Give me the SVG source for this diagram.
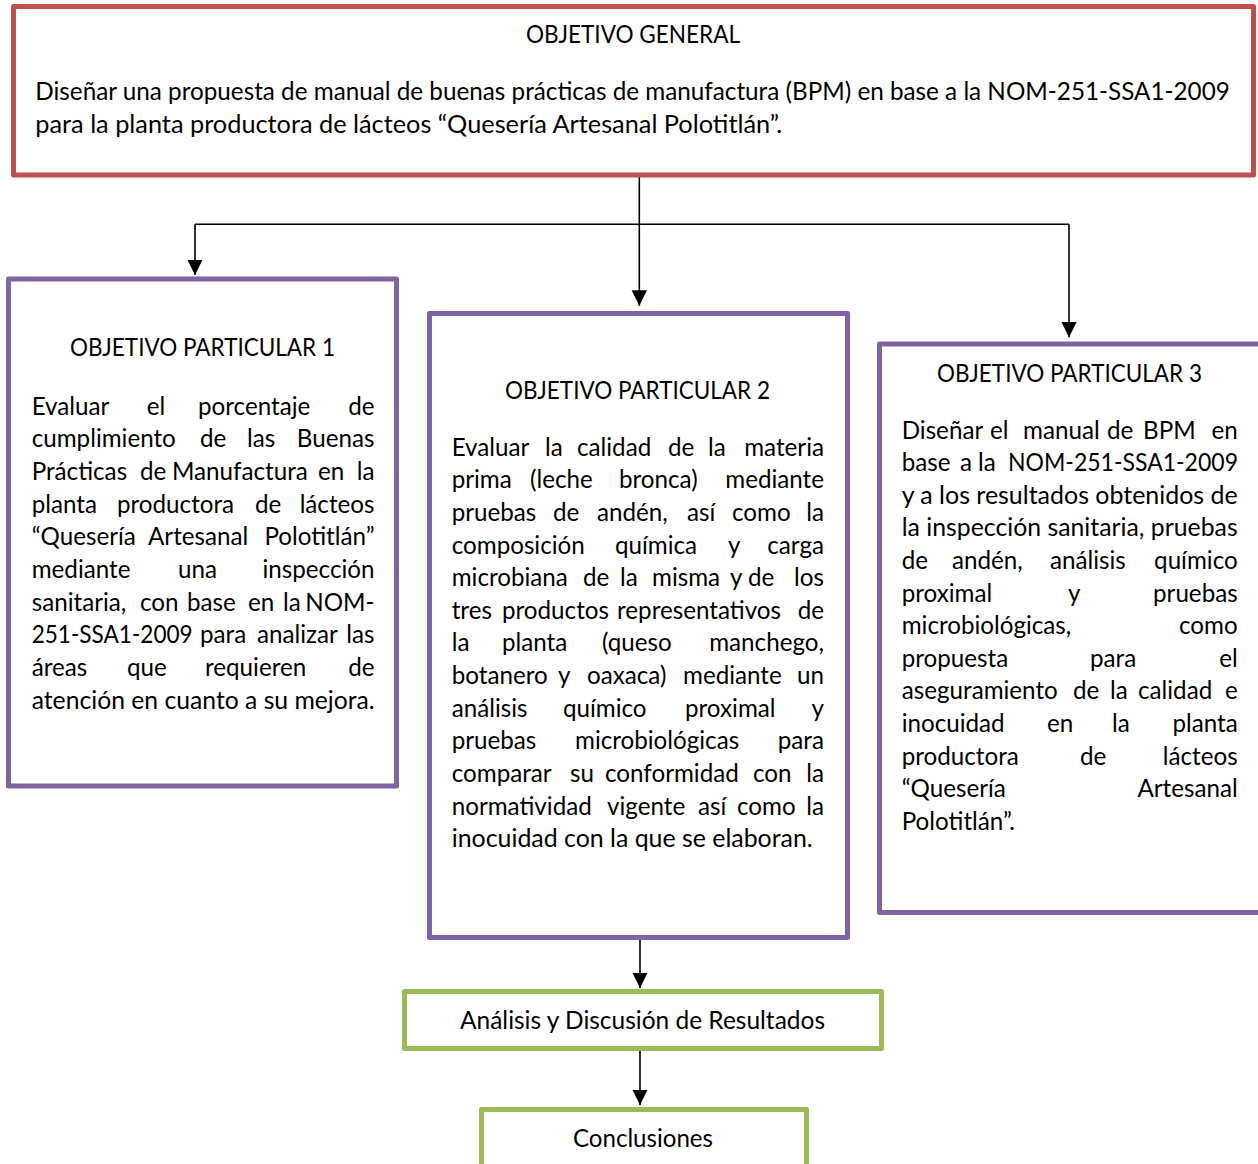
<svg xmlns="http://www.w3.org/2000/svg" width="1258" height="1164" viewBox="0 0 1258 1164">
<style>
.t{font-family:Lato,"Liberation Sans",sans-serif;font-size:24.2px;fill:#000}
.e{text-anchor:end}
.m{text-anchor:middle}
.box{fill:#fff;stroke-width:5;stroke-linejoin:round}
.red{stroke:#C0504D}
.pur{stroke:#8064A2}
.grn{stroke:#9BBB59}
.con{fill:none;stroke:#000;stroke-width:1.6}
</style>
<defs>
<marker id="ah" markerUnits="userSpaceOnUse" markerWidth="16" markerHeight="16" refX="15.5" refY="7.7" orient="auto">
<path d="M0,0 L15.5,7.7 L0,15.4 z" fill="#000"/>
</marker>
</defs>
<rect width="1258" height="1164" fill="#fff"/>

<g id="connectors">
<path class="con" d="M195,224.3 H1069"/>
<path class="con" d="M639.3,177 V305.7" marker-end="url(#ah)"/>
<path class="con" d="M195,224.3 V275" marker-end="url(#ah)"/>
<path class="con" d="M1069,224.3 V337.3" marker-end="url(#ah)"/>
<path class="con" d="M640,940 V988" marker-end="url(#ah)"/>
<path class="con" d="M640,1051 V1105" marker-end="url(#ah)"/>
</g>

<g id="objetivo-general">
<rect class="box red" x="13.5" y="6.5" width="1240" height="168.5"/>
<text class="t m" x="633" y="42.7" textLength="214" lengthAdjust="spacingAndGlyphs">OBJETIVO GENERAL</text>
<text class="t" x="35.3" y="100" textLength="1194.5" lengthAdjust="spacingAndGlyphs">Diseñar una propuesta de manual de buenas prácticas de manufactura (BPM) en base a la NOM-251-SSA1-2009</text>
<text class="t" x="35.3" y="132.7" textLength="747" lengthAdjust="spacingAndGlyphs">para la planta productora de lácteos “Quesería Artesanal Polotitlán”.</text>
</g>

<g id="objetivo-particular-1">
<rect class="box pur" x="8.5" y="279" width="388" height="507"/>
<text class="t m" x="202.5" y="356" textLength="265" lengthAdjust="spacingAndGlyphs">OBJETIVO PARTICULAR 1</text>
<text class="t" y="414.5"><tspan x="31.7">Evaluar</tspan><tspan x="146.7">el</tspan><tspan x="198">porcentaje</tspan></text><text class="t e" x="374.5" y="414.5">de</text>
<text class="t" y="447.2"><tspan x="31.7">cumplimiento</tspan><tspan x="200">de</tspan><tspan x="247">las</tspan></text><text class="t e" x="374.5" y="447.2">Buenas</text>
<text class="t" y="479.9"><tspan x="31.7">Prácticas</tspan><tspan x="140">de</tspan><tspan x="172">Manufactura</tspan><tspan x="318">en</tspan></text><text class="t e" x="374.5" y="479.9">la</text>
<text class="t" y="512.6"><tspan x="31.7">planta</tspan><tspan x="117">productora</tspan><tspan x="255">de</tspan></text><text class="t e" x="374.5" y="512.6">lácteos</text>
<text class="t" y="545.3"><tspan x="31.7">“Quesería</tspan><tspan x="148">Artesanal</tspan></text><text class="t e" x="374.5" y="545.3">Polotitlán”</text>
<text class="t" y="578"><tspan x="31.7">mediante</tspan><tspan x="178">una</tspan></text><text class="t e" x="374.5" y="578">inspección</text>
<text class="t" y="610.7"><tspan x="31.7">sanitaria,</tspan><tspan x="140">con</tspan><tspan x="187">base</tspan><tspan x="248">en</tspan><tspan x="283">la</tspan></text><text class="t e" x="374.5" y="610.7">NOM-</text>
<text class="t" x="31.7" y="643.4" textLength="161" lengthAdjust="spacingAndGlyphs">251-SSA1-2009</text><text class="t" y="643.4"><tspan x="200">para</tspan><tspan x="257">analizar</tspan></text><text class="t e" x="374.5" y="643.4">las</text>
<text class="t" y="676.1"><tspan x="31.7">áreas</tspan><tspan x="127">que</tspan><tspan x="205">requieren</tspan></text><text class="t e" x="374.5" y="676.1">de</text>
<text class="t" x="31.7" y="708.8" textLength="343" lengthAdjust="spacingAndGlyphs">atención en cuanto a su mejora.</text>
</g>

<g id="objetivo-particular-2">
<rect class="box pur" x="429.5" y="313.5" width="418" height="624"/>
<text class="t m" x="637.5" y="398.5" textLength="265" lengthAdjust="spacingAndGlyphs">OBJETIVO PARTICULAR 2</text>
<text class="t" y="455.5"><tspan x="451.7">Evaluar</tspan><tspan x="545">la</tspan><tspan x="577">calidad</tspan><tspan x="668">de</tspan><tspan x="708">la</tspan></text><text class="t e" x="824" y="455.5">materia</text>
<text class="t" y="488.2"><tspan x="451.7">prima</tspan><tspan x="530">(leche</tspan><tspan x="619">bronca)</tspan></text><text class="t e" x="824" y="488.2">mediante</text>
<text class="t" y="520.8"><tspan x="451.7">pruebas</tspan><tspan x="553">de</tspan><tspan x="597">andén,</tspan><tspan x="687">así</tspan><tspan x="732">como</tspan></text><text class="t e" x="824" y="520.8">la</text>
<text class="t" y="553.5"><tspan x="451.7">composición</tspan><tspan x="615">química</tspan><tspan x="728">y</tspan></text><text class="t e" x="824" y="553.5">carga</text>
<text class="t" y="586.1"><tspan x="451.7">microbiana</tspan><tspan x="583">de</tspan><tspan x="620">la</tspan><tspan x="652">misma</tspan><tspan x="730">y</tspan><tspan x="748">de</tspan></text><text class="t e" x="824" y="586.1">los</text>
<text class="t" y="618.8"><tspan x="451.7">tres</tspan><tspan x="502">productos</tspan><tspan x="617">representativos</tspan></text><text class="t e" x="824" y="618.8">de</text>
<text class="t" y="651.4"><tspan x="451.7">la</tspan><tspan x="502">planta</tspan><tspan x="602">(queso</tspan></text><text class="t e" x="824" y="651.4">manchego,</text>
<text class="t" y="684.1"><tspan x="451.7">botanero</tspan><tspan x="558">y</tspan><tspan x="587">oaxaca)</tspan><tspan x="683">mediante</tspan></text><text class="t e" x="824" y="684.1">un</text>
<text class="t" y="716.7"><tspan x="451.7">análisis</tspan><tspan x="563">químico</tspan><tspan x="685">proximal</tspan></text><text class="t e" x="824" y="716.7">y</text>
<text class="t" y="749.4"><tspan x="451.7">pruebas</tspan><tspan x="575">microbiológicas</tspan></text><text class="t e" x="824" y="749.4">para</text>
<text class="t" y="782"><tspan x="451.7">comparar</tspan><tspan x="570">su</tspan><tspan x="605">conformidad</tspan><tspan x="753">con</tspan></text><text class="t e" x="824" y="782">la</text>
<text class="t" y="814.7"><tspan x="451.7">normatividad</tspan><tspan x="607">vigente</tspan><tspan x="698">así</tspan><tspan x="737">como</tspan></text><text class="t e" x="824" y="814.7">la</text>
<text class="t" x="451.7" y="847.3" textLength="361" lengthAdjust="spacingAndGlyphs">inocuidad con la que se elaboran.</text>
</g>

<g id="objetivo-particular-3">
<rect class="box pur" x="879.5" y="344" width="384" height="568.5"/>
<text class="t m" x="1069.5" y="382" textLength="265" lengthAdjust="spacingAndGlyphs">OBJETIVO PARTICULAR 3</text>
<text class="t" y="438.5"><tspan x="901.7">Diseñar</tspan><tspan x="990">el</tspan><tspan x="1023">manual</tspan><tspan x="1107">de</tspan><tspan x="1143">BPM</tspan></text><text class="t e" x="1237.7" y="438.5">en</text>
<text class="t" y="471.1"><tspan x="901.7">base</tspan><tspan x="960">a</tspan><tspan x="978">la</tspan></text><text class="t" x="1008" y="471.1" textLength="230" lengthAdjust="spacingAndGlyphs">NOM-251-SSA1-2009</text>
<text class="t" x="901.7" y="503.7" textLength="336" lengthAdjust="spacingAndGlyphs">y a los resultados obtenidos de</text>
<text class="t" x="901.7" y="536.3" textLength="336" lengthAdjust="spacingAndGlyphs">la inspección sanitaria, pruebas</text>
<text class="t" y="568.9"><tspan x="901.7">de</tspan><tspan x="952">andén,</tspan><tspan x="1050">análisis</tspan></text><text class="t e" x="1237.7" y="568.9">químico</text>
<text class="t" y="601.5"><tspan x="901.7">proximal</tspan><tspan x="1068">y</tspan></text><text class="t e" x="1237.7" y="601.5">pruebas</text>
<text class="t" y="634.1"><tspan x="901.7">microbiológicas,</tspan></text><text class="t e" x="1237.7" y="634.1">como</text>
<text class="t" y="666.7"><tspan x="901.7">propuesta</tspan><tspan x="1090">para</tspan></text><text class="t e" x="1237.7" y="666.7">el</text>
<text class="t" y="699.3"><tspan x="901.7">aseguramiento</tspan><tspan x="1073">de</tspan><tspan x="1110">la</tspan><tspan x="1138">calidad</tspan></text><text class="t e" x="1237.7" y="699.3">e</text>
<text class="t" y="731.9"><tspan x="901.7">inocuidad</tspan><tspan x="1047">en</tspan><tspan x="1112">la</tspan></text><text class="t e" x="1237.7" y="731.9">planta</text>
<text class="t" y="764.5"><tspan x="901.7">productora</tspan><tspan x="1080">de</tspan></text><text class="t e" x="1237.7" y="764.5">lácteos</text>
<text class="t" y="797.1"><tspan x="901.7">“Quesería</tspan></text><text class="t e" x="1237.7" y="797.1">Artesanal</text>
<text class="t" x="901.7" y="829.7">Polotitlán”.</text>
</g>

<g id="analisis">
<rect class="box grn" x="404.5" y="991.5" width="477" height="57"/>
<text class="t m" x="642.5" y="1029.3" textLength="365" lengthAdjust="spacingAndGlyphs">Análisis y Discusión de Resultados</text>
</g>

<g id="conclusiones">
<rect class="box grn" x="481.5" y="1109.5" width="325" height="70"/>
<text class="t m" x="643" y="1147" textLength="140" lengthAdjust="spacingAndGlyphs">Conclusiones</text>
</g>
</svg>
